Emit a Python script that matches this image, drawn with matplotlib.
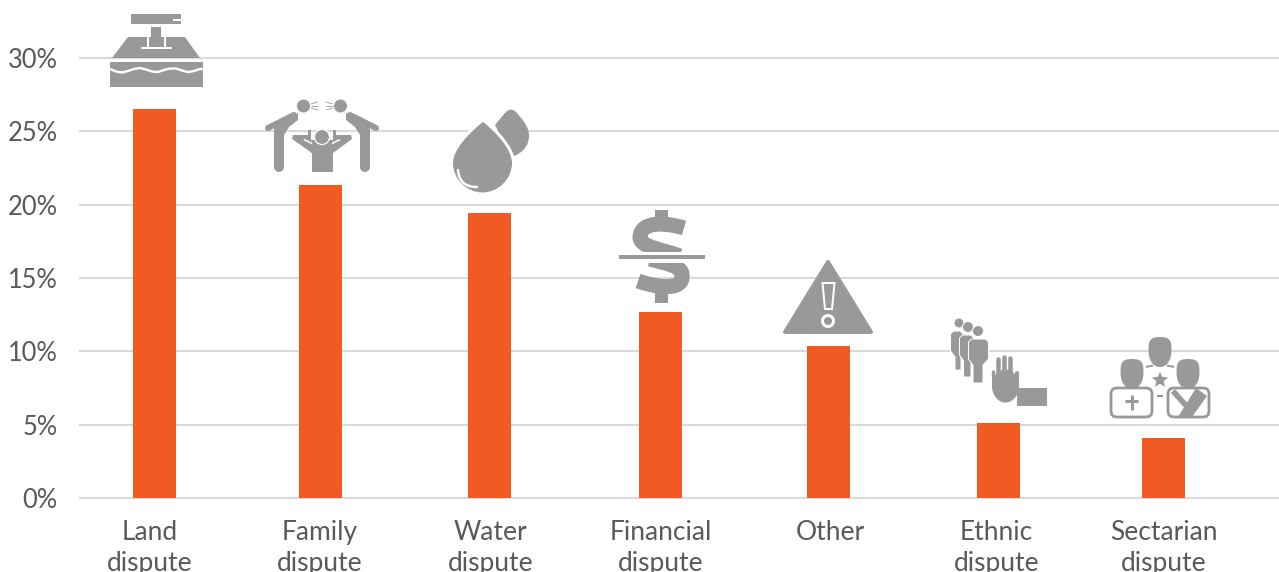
import numpy as np
import matplotlib
matplotlib.use('Agg')
import matplotlib.pyplot as plt
from matplotlib.path import Path
from matplotlib.patches import PathPatch, Polygon, Circle, Ellipse, Rectangle, FancyBboxPatch

# data
categories = ['Land\ndispute', 'Family\ndispute', 'Water\ndispute', 'Financial\ndispute',
              'Other', 'Ethnic\ndispute', 'Sectarian\ndispute']
shares = [26.5, 21.35, 19.4, 12.7, 10.35, 5.1, 4.1]
y_ticks = [0, 5, 10, 15, 20, 25, 30]
y_tick_labels = ['0%', '5%', '10%', '15%', '20%', '25%', '30%']

# bars and labels do not sit on a regular step in the original
bar_x = [154.5, 320.5, 489.5, 660.5, 828.5, 998.5, 1163.5]
label_x = [150, 319.5, 490.5, 660.5, 830, 996.5, 1164]

W, H = 1279, 572
BASE_PX = 498.0
PX_PER_PCT = 14.67
ORANGE = '#f15a22'
GREY = '#999999'
TEXT = '#595959'
GRID = '#d9d9d9'

plt.rcParams['font.family'] = ['Lato', 'DejaVu Sans']

fig = plt.figure(figsize=(W / 100, H / 100), dpi=100)
ax = fig.add_axes([80 / W, 1 - BASE_PX / H, 1 - 80 / W, BASE_PX / H])
ax.set_xlim(80, W)
ax.set_ylim(0, BASE_PX / PX_PER_PCT)
ax.bar(bar_x, shares, width=43, color=ORANGE, zorder=3)

ax.set_yticks(y_ticks)
ax.set_yticklabels(y_tick_labels, fontsize=18.4, color=TEXT)
ax.set_xticks(label_x)
ax.set_xticklabels(categories, fontsize=19, color=TEXT, linespacing=1.28)
ax.tick_params(axis='y', length=0, pad=16)
ax.tick_params(axis='x', length=0, pad=16)
ax.grid(axis='y', color=GRID, linewidth=1.5, zorder=0)
ax.set_axisbelow(True)
for line in ax.get_ygridlines():
    line.set_clip_on(False)
for s in ax.spines.values():
    s.set_visible(False)

# icons are drawn in picture pixels on a see-through layer
ic = fig.add_axes([0, 0, 1, 1], facecolor='none', zorder=5)
ic.set_xlim(0, W)
ic.set_ylim(H, 0)
ic.axis('off')


def poly(pts, fc=GREY, ec='none', lw=0, join='miter'):
    p = Polygon(pts, closed=True, fc=fc, ec=ec, lw=lw * 0.72, joinstyle=join)
    ic.add_patch(p)
    return p


def rect(x0, y0, x1, y1, fc=GREY):
    ic.add_patch(Rectangle((x0, y0), x1 - x0, y1 - y0, fc=fc, ec='none'))


def circ(x, y, r, fc=GREY, ec='none', lw=0):
    ic.add_patch(Circle((x, y), r, fc=fc, ec=ec, lw=lw * 0.72))


def stroke(pts, w, color=GREY, cap='round'):
    xs, ys = zip(*pts)
    ic.plot(xs, ys, color=color, lw=w * 0.72, solid_capstyle=cap, solid_joinstyle='round')


def curve(verts, fc=GREY, ec='none', lw=0, cap='butt'):
    # verts: start point followed by triples of cubic bezier points
    codes = [Path.MOVETO] + [Path.CURVE4] * (len(verts) - 1)
    ic.add_patch(PathPatch(Path(verts, codes), fc=fc, ec=ec, lw=lw * 0.72, capstyle=cap))


def head(cx, cy, w=22, h=29):
    # squarish bust head
    l, r = cx - w / 2, cx + w / 2
    t, b = cy - h / 2, cy + h / 2
    curve([(cx, t), (r - 2, t), (r, t + 3), (r, cy - 2),
           (r, cy + 8), (cx + 7, b), (cx, b),
           (cx - 7, b), (l, cy + 8), (l, cy - 2),
           (l, t + 3), (l + 2, t), (cx, t)])


# land: stand over water
rect(131, 14, 181, 24)
stroke([(173, 19.5), (181, 19.5)], 2, 'white', 'butt')
poly([(128, 37), (185, 37), (200, 58), (112, 58)])
rect(151, 27, 161, 47)
stroke([(148, 37), (148, 47)], 2, 'white', 'butt')
stroke([(165, 37), (165, 47)], 2, 'white', 'butt')
stroke([(142, 47.5), (171, 47.5)], 2, 'white')
rect(110, 62, 203, 87)
wave_x = [110, 116, 122, 128, 134, 140, 146, 152, 158, 164, 170, 176, 182, 188, 194, 200, 203]
wave_y = [69, 71.5, 72.5, 71, 69, 68, 69.5, 71.5, 72, 70, 68.5, 68.5, 70.5, 72, 71, 69, 69]
stroke(list(zip(wave_x, wave_y)), 2.4, 'white', 'butt')

# family: two figures arguing over a third
for m in (1, -1):
    fx = lambda v: v if m == 1 else 644 - v
    circ(fx(303.5), 106, 6.5)
    stroke([(fx(294), 115), (fx(268), 128)], 6)
    poly([(fx(298), 113), (fx(277), 124), (fx(274), 135), (fx(284), 135), (fx(289), 127), (fx(298), 120)])
    stroke([(fx(279), 130), (fx(279), 167)], 10)
    for dy in (-4, 0, 4):
        stroke([(fx(311), 106 + dy * 0.5), (fx(318), 106 + dy)], 1, '#aaaaaa', 'butt')
poly([(312, 172), (333, 172), (333, 153), (352, 139), (351, 135), (336, 135), (336, 130), (333, 130),
      (333, 140), (311, 140), (311, 130), (308, 130), (308, 135),
      (293, 135), (292, 139), (312, 153)])
rect(311, 140, 333, 153)
stroke([(304, 139.5), (312, 143.5)], 1.6, 'white', 'butt')
stroke([(340, 139.5), (332, 143.5)], 1.6, 'white', 'butt')
circ(322, 137, 7.5, ec='white', lw=1.2)

# water: two drops
curve([(495, 125), (499, 120), (503, 115), (507, 111),
       (510, 109), (513, 109), (516, 112),
       (522, 119), (529, 126), (529, 136),
       (529, 146), (522, 153), (514, 156),
       (505, 145), (500, 135), (495, 125)])
curve([(483, 120), (470, 130), (451.5, 148), (451.5, 163),
       (451.5, 180), (466, 194), (482.5, 194),
       (499, 194), (513.5, 180), (513.5, 163),
       (513.5, 148), (496, 130), (483, 120)], ec='white', lw=3)
curve([(458, 170), (459, 182), (466, 187), (477, 187)], fc='none', ec='white', lw=2.5, cap='round')

# financial: dollar sign split by a bar
rect(654.5, 210, 667.5, 226)
rect(654.5, 288, 667.5, 303)
curve([(684, 228), (668, 223), (641, 220), (640, 237),
       (640, 247), (660, 249), (680, 256)], fc='none', ec=GREY, lw=15)
curve([(638, 281), (655, 287), (684, 292), (682, 275),
       (682, 266), (668, 264), (650, 259)], fc='none', ec=GREY, lw=15)
poly([(625, 252), (700, 252), (700, 263), (625, 263)], fc='white')
rect(619, 255, 705, 259)

# other: warning triangle
poly([(828, 262), (871, 332), (785, 332)], ec=GREY, lw=4, join='round')
poly([(822.5, 283), (834.5, 283), (832, 309), (825, 309)], ec='white', lw=2)
circ(828, 321, 5.5, ec='white', lw=3)

# ethnic: queue of people stopped by a hand
for hx, hy, hr, bx0, bx1, by0, by1, lx0, lx1 in ((959, 323, 5, 950.5, 963, 331, 370, 955, 961),
                                                 (968, 327, 5.5, 959.5, 974, 335, 377, 963.5, 971),
                                                 (978, 331, 5.5, 968.5, 988.5, 339, 383, 973, 983)):
    circ(hx, hy, hr, ec='white', lw=1)
    poly([(bx0 + 3, by0), (bx1 - 3, by0), (bx1, by0 + 3), (bx1, by0 + 20), (lx1, by0 + 26), (lx1, by1),
          (lx0, by1), (lx0, by0 + 26), (bx0, by0 + 20), (bx0, by0 + 3)], ec='white', lw=1)
stroke([(997.5, 385), (997.5, 359)], 4.5)
stroke([(1003.5, 385), (1003.5, 357)], 4.5)
stroke([(1010, 385), (1010, 358)], 4.5)
stroke([(1017, 390), (1017, 373)], 4)
stroke([(994, 388), (993.5, 372)], 3.5)
ic.add_patch(Ellipse((1005.5, 386), 27, 33, fc=GREY, ec='none'))
rect(1017, 388, 1047, 406)

# sectarian: three leaders and a star
for bx in (1111, 1168):
    ic.add_patch(FancyBboxPatch((bx, 388), 41, 29, boxstyle='round,pad=0,rounding_size=6',
                                fc='white', ec=GREY, lw=2.8 * 0.72))
head(1160, 352, 23, 30)
head(1132, 374, 23, 30)
head(1188, 374, 23, 30)
stroke([(1131.5, 395), (1131.5, 410)], 3, cap='butt')
stroke([(1125, 400.5), (1138, 400.5)], 3, cap='butt')
stroke([(1173, 391), (1189, 409)], 5.5, cap='butt')
poly([(1196, 388), (1207, 396), (1192, 417), (1178, 417)])
stroke([(1146, 367), (1153, 365.5)], 2, cap='butt')
stroke([(1167, 365.5), (1174, 367)], 2, cap='butt')
stroke([(1157, 395.5), (1163, 395.5)], 2, cap='butt')
star = [(1160 + r * np.sin(a), 380 - r * np.cos(a))
        for a, r in zip(np.arange(10) * np.pi / 5, [8.5, 3.8] * 5)]
poly(star)

fig.savefig('out.png', dpi=100)
